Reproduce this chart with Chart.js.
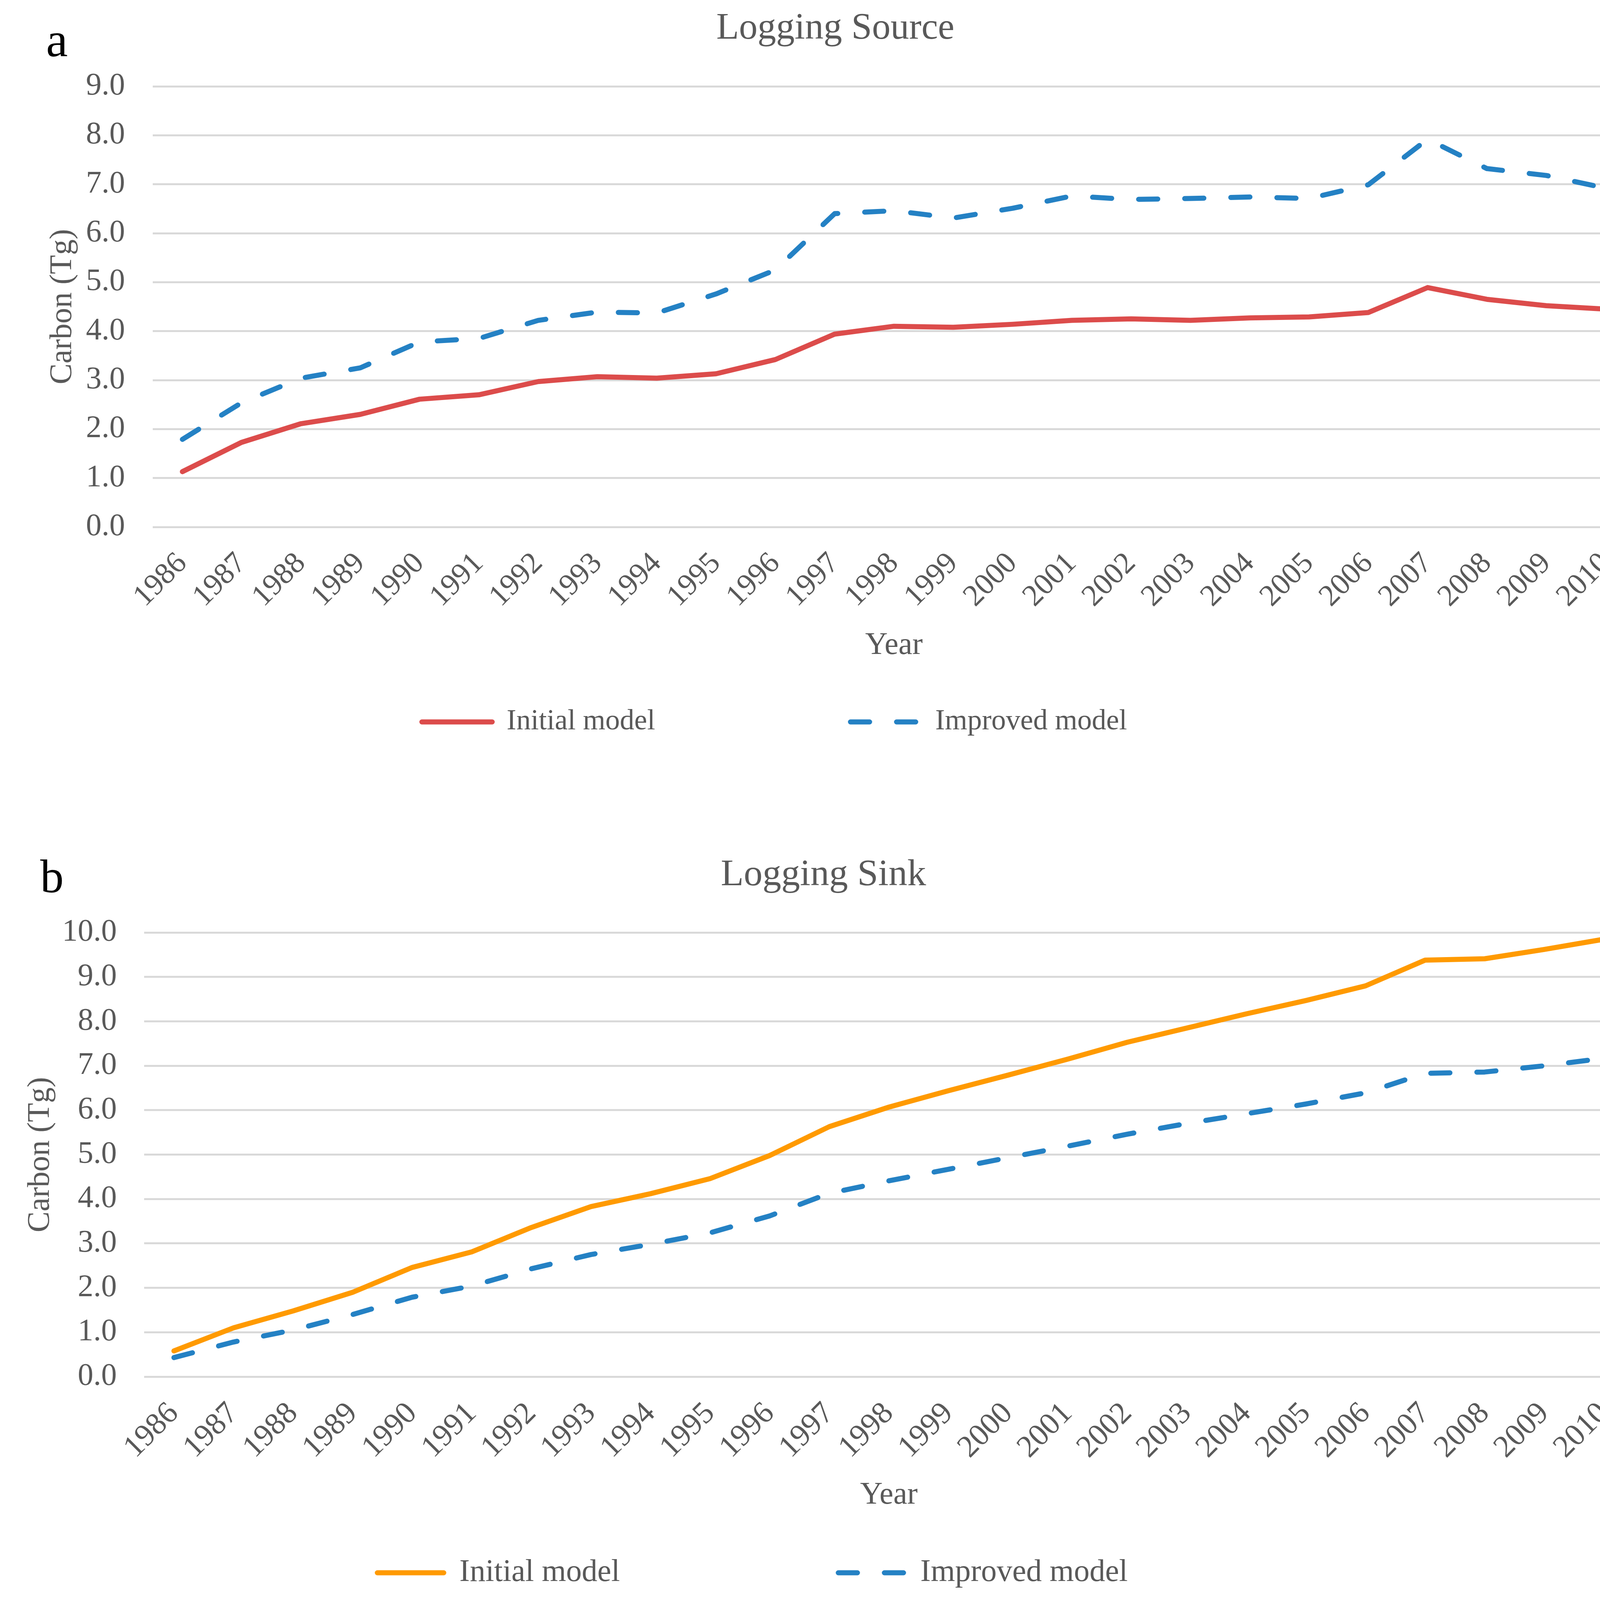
<!DOCTYPE html>
<html>
<head>
<meta charset="utf-8">
<script src="https://cdn.jsdelivr.net/npm/chart.js@4/dist/chart.umd.min.js"></script>
<style>
  html, body { margin: 0; padding: 0; background: #fff; }
  body { width: 4277px; height: 4088px; position: relative; overflow: hidden; }
  canvas { position: absolute; left: 0; }
  .tag { position: absolute; font-family: "Liberation Serif", serif; color: #000; line-height: 1; }
</style>
</head>
<body>
<div class="tag" style="left:118px; top:40px; font-size:125px;">a</div>
<div class="tag" style="left:103px; top:2184px; font-size:120px;">b</div>
<canvas id="chartA" width="4277" height="2100" style="top:0; width:4277px; height:2100px;"></canvas>
<canvas id="chartB" width="4216" height="1988" style="top:2100px; width:4216px; height:1988px;"></canvas>
<script>
const years = ['1986','1987','1988','1989','1990','1991','1992','1993','1994','1995','1996','1997','1998',
  '1999','2000','2001','2002','2003','2004','2005','2006','2007','2008','2009','2010'];

// Logging Source (Tg C)
const sourceInitial  = [1.13,1.73,2.11,2.30,2.61,2.70,2.97,3.07,3.04,3.13,3.42,3.94,4.10,4.08,4.14,4.22,4.25,4.22,4.27,4.29,4.38,4.89,4.65,4.52,4.45];
const sourceImproved = [1.79,2.54,3.04,3.25,3.78,3.85,4.22,4.39,4.37,4.76,5.25,6.40,6.46,6.31,6.51,6.76,6.69,6.71,6.74,6.71,6.99,7.92,7.32,7.18,6.92];

// Logging Sink (Tg C)
const sinkInitial  = [0.58,1.10,1.48,1.90,2.46,2.81,3.36,3.83,4.12,4.46,4.98,5.63,6.07,6.44,6.79,7.15,7.53,7.85,8.17,8.47,8.80,9.38,9.41,9.62,9.85];
const sinkImproved = [0.43,0.78,1.05,1.40,1.79,2.04,2.43,2.75,2.98,3.24,3.62,4.13,4.41,4.67,4.93,5.19,5.46,5.70,5.92,6.14,6.39,6.83,6.86,7.00,7.17];

const seriesNames = ['Initial model', 'Improved model'];

const FONT = 'Liberation Serif';
const GREY = '#595959';

// put the legend row where the reference has it, and centre the title on the whole canvas
function placeBlocks(x0, y0, fs) {
  return {
    id: 'placeBlocks',
    afterLayout(chart) {
      const lg = chart.legend;
      const p = lg.options.labels.padding;
      const w = lg.right - lg.left;
      const left = x0 - (w + p - lg.lineWidths[0]) / 2;
      lg.left = left;
      lg.right = left + w;
      lg.top = y0 - p - fs / 2;
      lg.bottom = y0 + fs;
      lg.height = lg.bottom - lg.top;

      const tb = chart.titleBlock;
      tb.left = 0;
      tb.right = chart.width;
      tb.width = chart.width;
    }
  };
}

function lineLegendLabels(chart) {
  return chart.data.datasets.map((ds, i) => ({
    text: ds.label,
    strokeStyle: ds.borderColor,
    fillStyle: ds.borderColor,
    lineWidth: ds.borderWidth,
    lineDash: ds.borderDash || [],
    lineCap: 'round',
    pointStyle: 'line',
    fontColor: GREY,
    hidden: false,
    datasetIndex: i
  }));
}

function makeChart(id, opt) {
  const ctx = document.getElementById(id).getContext('2d');
  return new Chart(ctx, {
    type: 'line',
    data: {
      labels: years,
      datasets: [{
        label: seriesNames[0],
        data: opt.initial,
        borderColor: opt.initialColor,
        backgroundColor: opt.initialColor,
        borderWidth: 13,
        borderCapStyle: 'round',
        borderJoinStyle: 'round',
        pointRadius: 0,
        tension: 0
      }, {
        label: seriesNames[1],
        data: opt.improved,
        borderColor: '#2481C4',
        backgroundColor: '#2481C4',
        borderWidth: 13,
        borderDash: [49, 69],
        borderCapStyle: 'round',
        borderJoinStyle: 'round',
        pointRadius: 0,
        tension: 0
      }]
    },
    options: {
      responsive: false,
      devicePixelRatio: 1,
      animation: false,
      layout: { padding: { left: 0, right: opt.padRight, top: 0, bottom: 0 } },
      plugins: {
        title: {
          display: true,
          text: opt.title,
          color: GREY,
          font: { family: FONT, size: opt.titleSize, weight: 'normal' },
          padding: { top: opt.titleTop, bottom: opt.titleBottom }
        },
        legend: {
          position: 'bottom',
          maxHeight: opt.legendHeight,
          labels: {
            usePointStyle: true,
            pointStyle: 'line',
            pointStyleWidth: opt.boxW,
            padding: opt.legendGap,
            color: GREY,
            font: { family: FONT, size: opt.legendSize },
            generateLabels: lineLegendLabels
          }
        },
        tooltip: { enabled: false }
      },
      scales: {
        x: {
          offset: true,
          grid: { display: false },
          border: { display: false },
          ticks: {
            autoSkip: false,
            maxRotation: 45,
            minRotation: 45,
            padding: 40,
            color: GREY,
            font: { family: FONT, size: opt.xTickSize }
          },
          title: {
            display: true,
            text: 'Year',
            color: GREY,
            font: { family: FONT, size: 80 },
            padding: { top: 0, bottom: 0 }
          },
          afterFit: s => { s.height = opt.xHeight; }
        },
        y: {
          min: 0,
          max: opt.yMax,
          grid: { color: '#D9D9D9', lineWidth: 5, drawTicks: false },
          border: { display: false },
          ticks: {
            stepSize: 1,
            padding: opt.yPad,
            color: GREY,
            font: { family: FONT, size: 80 },
            callback: v => Number(v).toFixed(1)
          },
          title: {
            display: true,
            text: 'Carbon (Tg)',
            color: GREY,
            font: { family: FONT, size: 80 },
            padding: { top: opt.yTitlePad, bottom: 0 }
          },
          afterFit: s => { s.width = opt.yWidth; }
        }
      }
    },
    plugins: [placeBlocks(opt.legendX, opt.legendY, opt.legendSize)]
  });
}

makeChart('chartA', {
  title: 'Logging Source',
  initial: sourceInitial,
  improved: sourceImproved,
  initialColor: '#DC4C4B',
  yMax: 9,
  padRight: 91,
  titleSize: 95, titleTop: 17, titleBottom: 90,
  yWidth: 391, yPad: 71, yTitlePad: 113,
  xHeight: 352, xTickSize: 78,
  legendHeight: 399, legendSize: 74, legendGap: 500, boxW: 180,
  legendX: 1080, legendY: 1848
});

makeChart('chartB', {
  title: 'Logging Sink',
  initial: sinkInitial,
  improved: sinkImproved,
  initialColor: '#FF9A00',
  yMax: 10,
  padRight: 34,
  titleSize: 96, titleTop: 83, titleBottom: 89,
  yWidth: 369, yPad: 70, yTitlePad: 56,
  xHeight: 352, xTickSize: 80,
  legendHeight: 212, legendSize: 80, legendGap: 559, boxW: 170,
  legendX: 966, legendY: 1926
});
</script>
</body>
</html>
